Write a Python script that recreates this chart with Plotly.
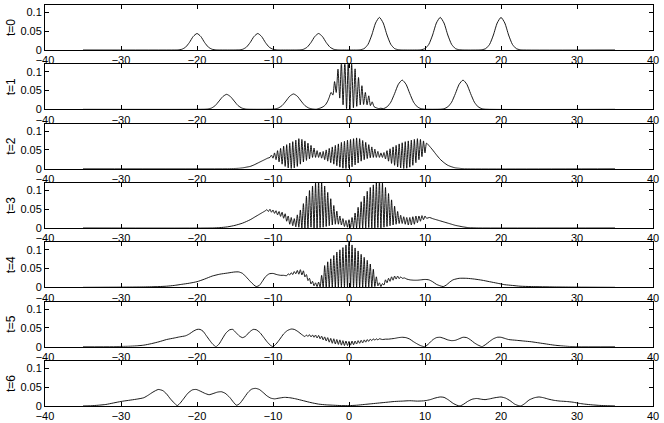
import plotly.graph_objects as go

# ---------------- data ----------------
x_ticks = [-40, -30, -20, -10, 0, 10, 20, 30, 40]
y_ticks = [0, 0.05, 0.1]
y_ticktext = ["0", "0.05", "0.1"]
panel_labels = ["t=0", "t=1", "t=2", "t=3", "t=4", "t=5", "t=6"]

t0_x = [-35,
        -23, -22.5, -22, -21.5, -21, -20.5, -20, -19.5, -19, -18.5, -18, -17.5, -17,
        -15, -14.5, -14, -13.5, -13, -12.5, -12, -11.5, -11, -10.5, -10, -9.5, -9,
        -7, -6.5, -6, -5.5, -5, -4.5, -4, -3.5, -3, -2.5, -2, -1.5, -1,
        1, 1.5, 2, 2.5, 3, 3.5, 4, 4.5, 5, 5.5, 6, 6.5, 7,
        9, 9.5, 10, 10.5, 11, 11.5, 12, 12.5, 13, 13.5, 14, 14.5, 15,
        17, 17.5, 18, 18.5, 19, 19.5, 20, 20.5, 21, 21.5, 22, 22.5, 23,
        35]
t0_y = [0,
        0.0, 0.0003, 0.0019, 0.0076, 0.020, 0.036, 0.044, 0.036, 0.020, 0.0076, 0.0019, 0.0003, 0.0,
        0.0, 0.0003, 0.0019, 0.0076, 0.020, 0.036, 0.044, 0.036, 0.020, 0.0076, 0.0019, 0.0003, 0.0,
        0.0, 0.0003, 0.0019, 0.0076, 0.020, 0.036, 0.044, 0.036, 0.020, 0.0076, 0.0019, 0.0003, 0.0,
        0.0, 0.0007, 0.0038, 0.015, 0.040, 0.072, 0.087, 0.072, 0.040, 0.015, 0.0038, 0.0007, 0.0,
        0.0, 0.0007, 0.0038, 0.015, 0.040, 0.072, 0.087, 0.072, 0.040, 0.015, 0.0038, 0.0007, 0.0,
        0.0, 0.0007, 0.0038, 0.015, 0.040, 0.072, 0.087, 0.072, 0.040, 0.015, 0.0038, 0.0007, 0.0,
        0]

t1_x = [-35,
        -19.1, -18.6, -18.1, -17.6, -17.1, -16.6, -16.1, -15.6, -15.1, -14.6, -14.1, -13.6, -13.1,
        -10.3, -9.8, -9.3, -8.8, -8.3, -7.8, -7.3, -6.8, -6.3, -5.8, -5.3, -4.8, -4.3,
        -4.0, -3.7, -3.4, -3.1, -2.8, -2.6, -2.35, -2.12, -1.9, -1.68,
        -1.45, -1.22, -1.0, -0.78, -0.55, -0.32, -0.1, 0.12, 0.35, 0.58,
        0.8, 1.02, 1.25, 1.48, 1.7, 1.92, 2.15, 2.38, 2.6, 2.82,
        3.05, 3.3, 3.6, 3.9, 4.2,
        4.5, 5, 5.5, 6, 6.5, 7, 7.5, 8, 8.5, 9, 9.5, 10,
        12, 12.5, 13, 13.5, 14, 14.5, 15, 15.5, 16, 16.5, 17, 17.5, 18,
        35]
t1_y = [0,
        0.0002, 0.0008, 0.0034, 0.010, 0.022, 0.034, 0.040, 0.034, 0.022, 0.010, 0.0034, 0.0008, 0.0002,
        0.0002, 0.0009, 0.0035, 0.010, 0.022, 0.035, 0.041, 0.035, 0.022, 0.010, 0.0035, 0.0009, 0.0002,
        0.002, 0.004, 0.007, 0.012, 0.022, 0.032, 0.045, 0.038, 0.074, 0.045,
        0.107, 0.030, 0.128, 0.012, 0.130, 0.002, 0.130, 0.000, 0.122, 0.004,
        0.108, 0.008, 0.085, 0.012, 0.063, 0.013, 0.045, 0.012, 0.036, 0.010,
        0.020, 0.007, 0.004, 0.002, 0.003,
        0.0016, 0.0066, 0.019, 0.042, 0.067, 0.078, 0.067, 0.042, 0.019, 0.0066, 0.0016, 0.0003,
        0.0003, 0.0016, 0.0066, 0.019, 0.042, 0.067, 0.078, 0.067, 0.042, 0.019, 0.0066, 0.0016, 0.0003,
        0]

t2_x = [-35, -16, -15, -14.5, -14, -13.5, -13, -12.5, -12, -11.5, -11, -10.7,
        -10.4, -10.2, -10.0, -9.8, -9.6, -9.4, -9.2, -9.0, -8.8, -8.6,
        -8.4, -8.2, -8.0, -7.8, -7.6, -7.4, -7.2, -7.0, -6.8, -6.6,
        -6.4, -6.2, -6.0, -5.8, -5.6, -5.4, -5.2, -5.0, -4.8, -4.6,
        -4.4, -4.2, -4.0, -3.8, -3.6, -3.4, -3.2, -3.0, -2.8, -2.6,
        -2.4, -2.2, -2.0, -1.8, -1.6, -1.4, -1.2, -1.0, -0.8, -0.6,
        -0.4, -0.2, 0.0, 0.2, 0.4, 0.6, 0.8, 1.0, 1.2, 1.4,
        1.6, 1.8, 2.0, 2.2, 2.4, 2.6, 2.8, 3.0, 3.2, 3.4,
        3.6, 3.8, 4.0, 4.2, 4.4, 4.6, 4.8, 5.0, 5.2, 5.4,
        5.6, 5.8, 6.0, 6.2, 6.4, 6.6, 6.8, 7.0, 7.2, 7.4,
        7.6, 7.8, 8.0, 8.2, 8.4, 8.6, 8.8, 9.0, 9.2, 9.4,
        9.6, 9.8, 10.0, 10.2,
        10.5, 11, 11.5, 12, 12.5, 13, 13.5, 14, 14.5, 15, 35]
t2_y = [0, 0, 0.0005, 0.001, 0.002, 0.004, 0.006, 0.010, 0.015, 0.020, 0.025, 0.028,
        0.030, 0.036, 0.028, 0.042, 0.024, 0.048, 0.018, 0.054, 0.012, 0.060,
        0.006, 0.064, 0.002, 0.068, 0.000, 0.072, 0.002, 0.076, 0.006, 0.080,
        0.012, 0.078, 0.018, 0.074, 0.022, 0.068, 0.026, 0.062, 0.030, 0.055,
        0.030, 0.048, 0.030, 0.044, 0.028, 0.046, 0.024, 0.050, 0.020, 0.054,
        0.016, 0.058, 0.012, 0.062, 0.008, 0.066, 0.004, 0.070, 0.001, 0.073,
        0.000, 0.076, 0.002, 0.078, 0.005, 0.080, 0.010, 0.082, 0.015, 0.080,
        0.020, 0.075, 0.024, 0.070, 0.027, 0.064, 0.029, 0.058, 0.030, 0.052,
        0.030, 0.046, 0.030, 0.042, 0.030, 0.043, 0.026, 0.048, 0.020, 0.053,
        0.014, 0.058, 0.009, 0.062, 0.005, 0.066, 0.002, 0.069, 0.000, 0.072,
        0.001, 0.074, 0.004, 0.076, 0.009, 0.078, 0.016, 0.080, 0.024, 0.078,
        0.032, 0.074, 0.042, 0.068,
        0.062, 0.050, 0.037, 0.025, 0.016, 0.009, 0.005, 0.002, 0.001, 0, 0]

t3_x = [-35, -18, -17, -16, -15, -14, -13, -12.5, -12, -11.5, -11.0,
        -10.8, -10.6, -10.4, -10.2, -10.0, -9.8, -9.6, -9.4, -9.2, -9.0,
        -8.8, -8.6, -8.4, -8.2, -8.0, -7.8, -7.6, -7.4, -7.2, -7.0,
        -6.8, -6.6, -6.4, -6.2, -6.0, -5.8, -5.6, -5.4, -5.2, -5.0,
        -4.8, -4.6, -4.4, -4.2, -4.0, -3.8, -3.6, -3.4, -3.2, -3.0,
        -2.8, -2.6, -2.4, -2.2, -2.0, -1.8, -1.6, -1.4, -1.2, -1.0,
        -0.8, -0.6, -0.4, -0.2, 0.0, 0.2, 0.4, 0.6, 0.8, 1.0,
        1.2, 1.4, 1.6, 1.8, 2.0, 2.2, 2.4, 2.6, 2.8, 3.0,
        3.2, 3.4, 3.6, 3.8, 4.0, 4.2, 4.4, 4.6, 4.8, 5.0,
        5.2, 5.4, 5.6, 5.8, 6.0, 6.2, 6.4, 6.6, 6.8, 7.0,
        7.2, 7.4, 7.6, 7.8, 8.0, 8.2, 8.4, 8.6, 8.8, 9.0,
        9.2, 9.4, 9.6, 9.8, 10.0, 10.2,
        10.6, 11, 11.5, 12, 12.5, 13, 13.5, 14, 14.5, 15, 15.5, 16, 17, 35]
t3_y = [0, 0, 0.001, 0.003, 0.007, 0.013, 0.022, 0.028, 0.034, 0.040, 0.046,
        0.049, 0.044, 0.050, 0.042, 0.048, 0.039, 0.046, 0.035, 0.044, 0.031,
        0.042, 0.026, 0.038, 0.018, 0.032, 0.010, 0.028, 0.006, 0.025, 0.003,
        0.035, 0.002, 0.048, 0.000, 0.065, 0.000, 0.085, 0.000, 0.100, 0.002,
        0.112, 0.000, 0.120, 0.000, 0.125, 0.001, 0.122, 0.002, 0.112, 0.004,
        0.095, 0.006, 0.078, 0.008, 0.060, 0.010, 0.045, 0.010, 0.032, 0.008,
        0.025, 0.004, 0.020, 0.002, 0.022, 0.001, 0.028, 0.000, 0.040, 0.000,
        0.055, 0.000, 0.070, 0.000, 0.085, 0.000, 0.098, 0.001, 0.108, 0.000,
        0.115, 0.000, 0.122, 0.001, 0.130, 0.000, 0.120, 0.002, 0.108, 0.004,
        0.092, 0.006, 0.075, 0.008, 0.058, 0.010, 0.044, 0.012, 0.034, 0.012,
        0.030, 0.010, 0.028, 0.008, 0.028, 0.008, 0.030, 0.010, 0.032, 0.014,
        0.032, 0.018, 0.033, 0.022, 0.032, 0.026,
        0.028, 0.025, 0.022, 0.019, 0.016, 0.013, 0.010, 0.007, 0.005, 0.003, 0.0015, 0.0005, 0, 0]

t4_x = [-35, -30, -27, -25, -24, -23, -22, -21, -20, -19,
        -18, -17, -16, -15, -14.5, -14, -13.5, -13, -12.5, -12.2,
        -11.8, -11.4, -11, -10.5, -10, -9.5, -9, -8.6,
        -8.2, -8.0, -7.8, -7.6, -7.4, -7.2, -7.0, -6.8, -6.6, -6.4,
        -6.2, -6.0, -5.8, -5.6, -5.4, -5.2, -5.0, -4.8, -4.6, -4.4,
        -4.2, -4.0, -3.8, -3.6, -3.4, -3.2, -3.0, -2.8, -2.6, -2.4,
        -2.2, -2.0, -1.8, -1.6, -1.4, -1.2, -1.0, -0.8, -0.6, -0.4,
        -0.2, 0.0, 0.2, 0.4, 0.6, 0.8, 1.0, 1.2, 1.4, 1.6,
        1.8, 2.0, 2.2, 2.4, 2.6, 2.8, 3.0, 3.2, 3.4, 3.6,
        3.8, 4.0, 4.2, 4.4, 4.6, 4.8, 5.0, 5.2, 5.4, 5.6,
        5.8, 6.0, 6.2, 6.4, 6.6, 6.8, 7.0,
        7.3, 7.6, 8, 8.5, 9, 9.5, 10, 10.5, 11, 11.5,
        12, 12.4, 12.8, 13.2, 13.7, 14.5, 15.5, 16.5, 17.5, 18.5,
        19.5, 20.5, 21.5, 22.5, 24, 27, 30, 35]
t4_y = [0, 0.0005, 0.001, 0.002, 0.003, 0.005, 0.008, 0.011, 0.015, 0.022,
        0.030, 0.035, 0.038, 0.041, 0.041, 0.037, 0.027, 0.016, 0.006, 0.002,
        0.005, 0.016, 0.028, 0.036, 0.037, 0.034, 0.032, 0.032,
        0.031, 0.036, 0.033, 0.039, 0.034, 0.042, 0.036, 0.045, 0.035, 0.047,
        0.033, 0.044, 0.028, 0.034, 0.018, 0.024, 0.009, 0.016, 0.004, 0.012,
        0.002, 0.014, 0.001, 0.032, 0.001, 0.058, 0.000, 0.068, 0.000, 0.076,
        0.000, 0.085, 0.000, 0.094, 0.000, 0.100, 0.000, 0.106, 0.000, 0.113,
        0.000, 0.128, 0.000, 0.113, 0.000, 0.105, 0.000, 0.097, 0.000, 0.088,
        0.000, 0.080, 0.000, 0.072, 0.001, 0.062, 0.001, 0.048, 0.002, 0.028,
        0.004, 0.012, 0.002, 0.010, 0.006, 0.020, 0.012, 0.024, 0.016, 0.028,
        0.019, 0.030, 0.022, 0.030, 0.023, 0.028, 0.024,
        0.025, 0.022, 0.020, 0.019, 0.019, 0.020, 0.021, 0.020, 0.015, 0.008,
        0.004, 0.002, 0.006, 0.013, 0.020, 0.024, 0.024, 0.022, 0.019, 0.015,
        0.011, 0.007, 0.005, 0.003, 0.002, 0.001, 0.0005, 0]

t5_x = [-35, -31, -29, -28, -27, -26, -25, -24, -23, -22.3,
        -21.5, -21, -20.5, -20, -19.6, -19.2, -18.8, -18.3, -17.9, -17.5,
        -17.1, -16.7, -16.2, -15.7, -15.3, -14.9, -14.4, -14.0, -13.6, -13.1,
        -12.6, -12.2, -11.7, -11.2, -10.7, -10.3, -10.0, -9.6, -9.1, -8.6,
        -8.1, -7.6, -7.2, -6.7, -6.2,
        -5.8, -5.6, -5.4, -5.2, -5.0, -4.8, -4.6, -4.4, -4.2, -4.0,
        -3.8, -3.6, -3.4, -3.2, -3.0, -2.8, -2.6, -2.4, -2.2, -2.0,
        -1.8, -1.6, -1.4, -1.2, -1.0, -0.8, -0.6, -0.4, -0.2, 0.0,
        0.2, 0.4, 0.6, 0.8, 1.0, 1.2, 1.4, 1.6, 1.8, 2.0,
        2.2, 2.4, 2.6, 2.8, 3.0, 3.2, 3.4, 3.6, 3.8, 4.0,
        4.4, 4.8, 5.2, 5.6, 6.0, 6.5, 7.0, 7.5, 8.0, 8.5,
        9.0, 9.5, 10.0, 10.5, 11.0, 11.5, 12.0, 12.5, 13.0, 13.5,
        14.0, 14.5, 15.0, 15.5, 16.0, 16.5, 17.0, 17.5, 18.0, 18.5,
        19.0, 19.5, 20.0, 20.5, 21.0, 22.0, 23.0, 24.0, 25.0, 26.0,
        27.0, 28.0, 29.0, 30, 35]
t5_y = [0, 0.0002, 0.001, 0.002, 0.004, 0.008, 0.013, 0.019, 0.023, 0.026,
        0.029, 0.034, 0.041, 0.046, 0.046, 0.041, 0.030, 0.016, 0.006, 0.0,
        0.007, 0.020, 0.036, 0.045, 0.046, 0.038, 0.028, 0.024, 0.028, 0.039,
        0.046, 0.045, 0.037, 0.024, 0.011, 0.003, 0.0, 0.007, 0.020, 0.034,
        0.043, 0.047, 0.046, 0.040, 0.032,
        0.027, 0.031, 0.027, 0.032, 0.026, 0.031, 0.025, 0.031, 0.023, 0.030,
        0.021, 0.028, 0.018, 0.026, 0.015, 0.024, 0.012, 0.022, 0.009, 0.021,
        0.007, 0.019, 0.006, 0.018, 0.004, 0.016, 0.003, 0.015, 0.003, 0.014,
        0.004, 0.015, 0.005, 0.015, 0.007, 0.016, 0.009, 0.017, 0.010, 0.018,
        0.012, 0.019, 0.014, 0.020, 0.016, 0.021, 0.017, 0.021, 0.018, 0.021,
        0.019, 0.020, 0.020, 0.021, 0.022, 0.024, 0.025, 0.024, 0.020, 0.013,
        0.007, 0.002, 0.0, 0.008, 0.018, 0.024, 0.025, 0.022, 0.018, 0.016,
        0.017, 0.021, 0.025, 0.024, 0.018, 0.010, 0.004, 0.0, 0.006, 0.014,
        0.021, 0.025, 0.025, 0.022, 0.019, 0.017, 0.015, 0.013, 0.010, 0.007,
        0.004, 0.002, 0.0005, 0, 0]

t6_x = [-35, -34, -33, -32, -31, -30, -29, -28, -27, -26.4,
        -25.8, -25.1, -24.5, -24, -23.5, -23, -22.6, -22.2, -21.7, -21.2,
        -20.6, -20.1, -19.5, -19, -18.4, -17.9, -17.3, -16.8, -16.3, -15.7,
        -15.2, -14.8, -14.4, -13.9, -13.3, -12.8, -12.3, -11.8, -11.3, -10.8,
        -10.3, -9.8, -9.2, -8.5, -7.8, -7, -6, -5, -4, -3,
        -2, -1, 0, 1, 2, 3, 4, 5, 6, 7,
        8, 9, 10, 10.7, 11.3, 12.0, 12.5, 13.1, 13.7, 14.2,
        14.6, 15.1, 15.6, 16.2, 16.8, 17.4, 17.9, 18.5, 19.2, 20.0,
        20.6, 21.2, 21.8, 22.3, 22.6, 23.1, 23.7, 24.4, 25.0, 25.6,
        26.3, 27, 27.8, 28.6, 29.5, 30.3, 31, 32, 33, 34,
        35]
t6_y = [0, 0.0005, 0.002, 0.004, 0.008, 0.012, 0.015, 0.018, 0.022, 0.029,
        0.037, 0.044, 0.041, 0.032, 0.019, 0.008, 0.001, 0.008, 0.021, 0.034,
        0.043, 0.044, 0.039, 0.034, 0.030, 0.033, 0.037, 0.038, 0.034, 0.023,
        0.010, 0.002, 0.006, 0.019, 0.036, 0.045, 0.047, 0.044, 0.036, 0.027,
        0.021, 0.019, 0.021, 0.023, 0.022, 0.019, 0.014, 0.009, 0.005, 0.003,
        0.002, 0.001, 0.001, 0.002, 0.004, 0.006, 0.008, 0.010, 0.012, 0.013,
        0.014, 0.013, 0.014, 0.017, 0.021, 0.024, 0.023, 0.016, 0.007, 0.002,
        0.0, 0.005, 0.012, 0.018, 0.020, 0.018, 0.017, 0.019, 0.022, 0.024,
        0.021, 0.014, 0.005, 0.001, 0.0, 0.006, 0.016, 0.022, 0.024, 0.022,
        0.018, 0.015, 0.013, 0.012, 0.010, 0.007, 0.005, 0.003, 0.0015, 0.0007,
        0]

panels = [(t0_x, t0_y), (t1_x, t1_y), (t2_x, t2_y), (t3_x, t3_y),
          (t4_x, t4_y), (t5_x, t5_y), (t6_x, t6_y)]
for i, (px, py) in enumerate(panels):
    if len(px) != len(py):
        raise ValueError(f"panel {i}: {len(px)} x vs {len(py)} y")

# ---------------- layout ----------------
W, H = 664, 423
ML, MR, MT, MB = 45, 11, 5, 17
plot_h = H - MT - MB
panel_h = 45.0
pitch = 59.33
FONT = "Liberation Sans, Arial, Helvetica, sans-serif"

fig = go.Figure()
layout = dict(
    width=W, height=H,
    margin=dict(l=ML, r=MR, t=MT, b=MB, pad=0, autoexpand=False),
    paper_bgcolor="white", plot_bgcolor="white",
    font=dict(family=FONT, size=11, color="black"),
    showlegend=False,
)

for k, (px, py) in enumerate(panels):
    sfx = "" if k == 0 else str(k + 1)
    bottom_px = 50 + pitch * k
    d0 = (H - MB - bottom_px) / plot_h
    d1 = (H - MB - (bottom_px - panel_h)) / plot_h
    fig.add_trace(go.Scatter(
        x=px, y=py, mode="lines",
        line=dict(color="black", width=0.9, shape="spline", smoothing=0.6),
        xaxis="x" + sfx, yaxis="y" + sfx, hoverinfo="skip", showlegend=False,
    ))
    layout["xaxis" + sfx] = dict(
        domain=[0, 1], range=[-40, 40], anchor="y" + sfx,
        tickmode="array", tickvals=x_ticks,
        ticks="inside", ticklen=4, tickwidth=1, tickcolor="black",
        showline=True, linecolor="black", linewidth=1, mirror="ticks",
        showgrid=False, zeroline=False, automargin=False,
        tickfont=dict(family=FONT, size=11, color="black"),
    )
    layout["yaxis" + sfx] = dict(
        domain=[max(0.0, d0), min(1.0, d1)], range=[0, 0.12], anchor="x" + sfx,
        tickmode="array", tickvals=y_ticks, ticktext=y_ticktext,
        ticks="inside", ticklen=4, tickwidth=1, tickcolor="black",
        showline=True, linecolor="black", linewidth=1, mirror="ticks",
        showgrid=False, zeroline=False, automargin=False,
        tickfont=dict(family=FONT, size=11, color="black"),
        title=dict(text=panel_labels[k], font=dict(family=FONT, size=12, color="black"), standoff=2),
    )

fig.update_layout(**layout)
fig.write_html("out.html",
               config=dict(displayModeBar=False, staticPlot=True),
               post_script="document.body.style.margin='0';document.body.style.padding='0';")
